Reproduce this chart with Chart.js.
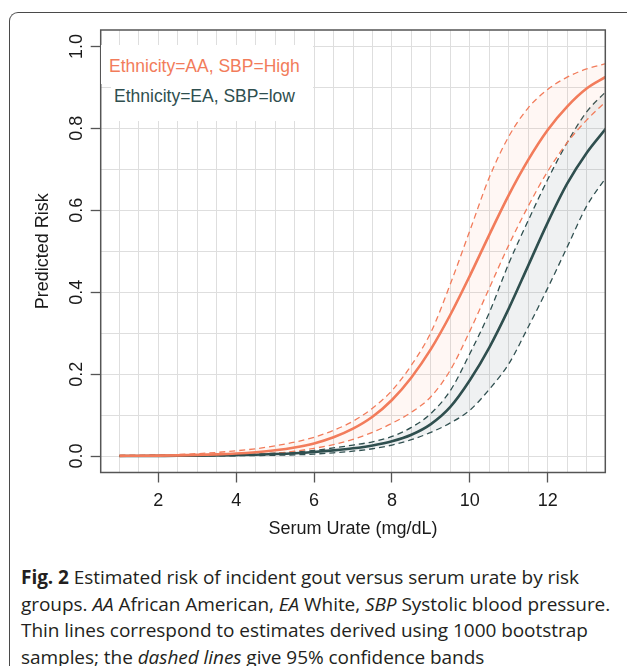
<!DOCTYPE html>
<html>
<head>
<meta charset="utf-8">
<title>Predicted gout risk by serum urate</title>
<script src="https://cdn.jsdelivr.net/npm/chart.js"></script>
<style>
  html, body { margin: 0; padding: 0; background: #fff; width: 627px; height: 666px; overflow: hidden; }
  #frame { position: absolute; left: 9px; top: 12px; width: 700px; height: 700px;
           border-left: 1.5px solid #4a4a4a; border-top: 1.5px solid #4a4a4a; border-top-left-radius: 9px; }
  #riskChart { position: absolute; left: 0; top: 0; }
  .key { position: absolute; background: #fff; box-sizing: border-box; white-space: nowrap;
         font-family: "Liberation Sans", Arial, sans-serif; font-size: 17.5px; }
  #keyAA { left: 101px; top: 45px; width: 212px; height: 39px; padding: 3px 0 0 8px; line-height: 36px; color: #f27c5b; }
  #keyEA { left: 111px; top: 84px; width: 202px; height: 37px; padding: 0 0 0 3px; line-height: 24px; color: #2f4f4f; }
  #caption { position: absolute; left: 21px; top: 564px; width: 606px; font-family: "Open Sans", sans-serif;
             font-size: 19px; letter-spacing: -0.05px; line-height: 26.7px; color: #231f20; white-space: nowrap; }
</style>
</head>
<body>
<div id="frame"></div>
<canvas id="riskChart" width="627" height="540"></canvas>
<div class="key" id="keyAA"></div>
<div class="key" id="keyEA"></div>
<div id="caption"><b>Fig. 2</b> Estimated risk of incident gout versus serum urate by risk<br>groups. <i>AA</i> African American, <i>EA</i> White, <i>SBP</i> Systolic blood pressure.<br>Thin lines correspond to estimates derived using 1000 bootstrap<br>samples; the <i>dashed lines</i> give 95% confidence bands</div>
<script>
// serum urate grid (mg/dL)
const urate = [1, 1.5, 2, 2.5, 3, 3.5, 4, 4.5, 5, 5.5, 6, 6.5, 7, 7.5, 8, 8.5, 9, 9.5, 10, 10.5, 11, 11.5, 12, 12.5, 13, 13.5];

// Ethnicity=AA, SBP=High
const aaRisk  = [0.0006, 0.0009, 0.0013, 0.0019, 0.0029, 0.0043, 0.0064, 0.0096, 0.0142, 0.021, 0.031, 0.046, 0.067, 0.096, 0.137, 0.192, 0.261, 0.345, 0.44, 0.54, 0.637, 0.723, 0.796, 0.853, 0.897, 0.926];
const aaUpper = [0.002, 0.0025, 0.003, 0.004, 0.006, 0.009, 0.013, 0.018, 0.025, 0.034, 0.046, 0.063, 0.085, 0.117, 0.16, 0.222, 0.302, 0.42, 0.55, 0.68, 0.78, 0.85, 0.895, 0.925, 0.945, 0.958];
const aaLower = [0.0002, 0.0003, 0.0005, 0.0007, 0.001, 0.0015, 0.0025, 0.004, 0.007, 0.012, 0.019, 0.028, 0.041, 0.058, 0.08, 0.107, 0.145, 0.21, 0.305, 0.41, 0.515, 0.61, 0.695, 0.765, 0.82, 0.866];

// Ethnicity=EA, SBP=low
const eaRisk  = [0.0003, 0.0004, 0.0006, 0.0008, 0.0012, 0.0017, 0.0025, 0.0035, 0.005, 0.007, 0.010, 0.014, 0.019, 0.026, 0.036, 0.052, 0.078, 0.12, 0.185, 0.265, 0.36, 0.465, 0.57, 0.665, 0.74, 0.80];
const eaUpper = [0.0005, 0.0007, 0.001, 0.0013, 0.0018, 0.0025, 0.0035, 0.005, 0.007, 0.01, 0.014, 0.02, 0.027, 0.035, 0.048, 0.07, 0.104, 0.16, 0.25, 0.35, 0.47, 0.575, 0.675, 0.765, 0.84, 0.89];
const eaLower = [0.0001, 0.0001, 0.0002, 0.0003, 0.0004, 0.0006, 0.0009, 0.0013, 0.002, 0.003, 0.005, 0.008, 0.012, 0.018, 0.027, 0.04, 0.058, 0.081, 0.112, 0.163, 0.225, 0.315, 0.41, 0.51, 0.61, 0.68];

const groupNames = ['Ethnicity=AA, SBP=High', 'Ethnicity=EA, SBP=low'];
const xTickLabels = [2, 4, 6, 8, 10, 12];
const yTickLabels = [0, 0.2, 0.4, 0.6, 0.8, 1.0];

const AA_COL = '#f27c5b';
const EA_COL = '#2f4f4f';

document.getElementById('keyAA').textContent = groupNames[0];
document.getElementById('keyEA').textContent = groupNames[1];

function pts(arr) {
    return arr.map((v, i) => ({ x: urate[i], y: v }));
}
function isLabelled(list, v) {
    return list.some(t => Math.abs(t - v) < 1e-6);
}

// box round the plotting region, like R's box()
const plotBox = {
    id: 'plotBox',
    afterDraw(chart) {
        const a = chart.chartArea, ctx = chart.ctx;
        ctx.save();
        ctx.strokeStyle = '#555';
        ctx.lineWidth = 1.5;
        ctx.strokeRect(a.left, a.top, a.right - a.left, a.bottom - a.top);
        ctx.restore();
    }
};

const lineBase = { pointRadius: 0, cubicInterpolationMode: 'monotone' };

new Chart(document.getElementById('riskChart'), {
    type: 'line',
    data: {
        datasets: [
            Object.assign({ label: groupNames[0], data: pts(aaRisk), borderColor: AA_COL, borderWidth: 2.6, fill: false }, lineBase),
            Object.assign({ label: groupNames[1], data: pts(eaRisk), borderColor: EA_COL, borderWidth: 2.6, fill: false }, lineBase),
            Object.assign({ label: 'AA upper', data: pts(aaUpper), borderColor: AA_COL, borderWidth: 1.3, borderDash: [6, 4],
                            fill: '+1', backgroundColor: 'rgba(250, 160, 125, 0.085)' }, lineBase),
            Object.assign({ label: 'AA lower', data: pts(aaLower), borderColor: AA_COL, borderWidth: 1.3, borderDash: [6, 4], fill: false }, lineBase),
            Object.assign({ label: 'EA upper', data: pts(eaUpper), borderColor: EA_COL, borderWidth: 1.3, borderDash: [6, 4],
                            fill: '+1', backgroundColor: 'rgba(110, 130, 140, 0.11)' }, lineBase),
            Object.assign({ label: 'EA lower', data: pts(eaLower), borderColor: EA_COL, borderWidth: 1.3, borderDash: [6, 4], fill: false }, lineBase)
        ]
    },
    options: {
        responsive: false,
        animation: false,
        devicePixelRatio: 1,
        layout: { padding: { left: 0, right: 21.7, top: 30, bottom: 0 } },
        plugins: { legend: { display: false }, tooltip: { enabled: false } },
        scales: {
            x: {
                type: 'linear',
                min: 0.52,
                max: 13.48,
                afterFit(s) { s.height = 67.5; },
                border: { display: false },
                grid: {
                    color: '#dedede',
                    lineWidth: 1,
                    tickLength: 10,
                    tickWidth: 1.3,
                    tickColor: c => isLabelled(xTickLabels, c.tick.value) ? '#555' : 'rgba(0,0,0,0)'
                },
                ticks: {
                    stepSize: 0.5,
                    includeBounds: false,
                    autoSkip: false,
                    maxRotation: 0,
                    padding: 8,
                    color: '#1a1a1a',
                    font: { family: 'Liberation Sans', size: 18 },
                    callback: v => isLabelled(xTickLabels, v) ? String(v) : ''
                },
                title: {
                    display: true,
                    text: 'Serum Urate (mg/dL)',
                    color: '#1a1a1a',
                    font: { family: 'Liberation Sans', size: 18 },
                    padding: { top: 0, bottom: 0 }
                }
            },
            y: {
                min: -0.04,
                max: 1.04,
                afterFit(s) { s.width = 100.7; },
                border: { display: false },
                grid: {
                    color: '#dedede',
                    lineWidth: 1,
                    tickLength: 10,
                    tickWidth: 1.3,
                    tickColor: c => isLabelled(yTickLabels, c.tick.value) ? '#555' : 'rgba(0,0,0,0)'
                },
                ticks: {
                    stepSize: 0.1,
                    includeBounds: false,
                    autoSkip: false,
                    minRotation: 90,
                    maxRotation: 90,
                    crossAlign: 'center',
                    padding: 1,
                    color: '#1a1a1a',
                    font: { family: 'Liberation Sans', size: 18 },
                    callback: v => isLabelled(yTickLabels, v) ? v.toFixed(1) : ''
                },
                title: {
                    display: true,
                    text: 'Predicted Risk',
                    color: '#1a1a1a',
                    font: { family: 'Liberation Sans', size: 18 },
                    padding: { top: 32, bottom: 0 }
                }
            }
        }
    },
    plugins: [plotBox]
});
</script>
</body>
</html>
